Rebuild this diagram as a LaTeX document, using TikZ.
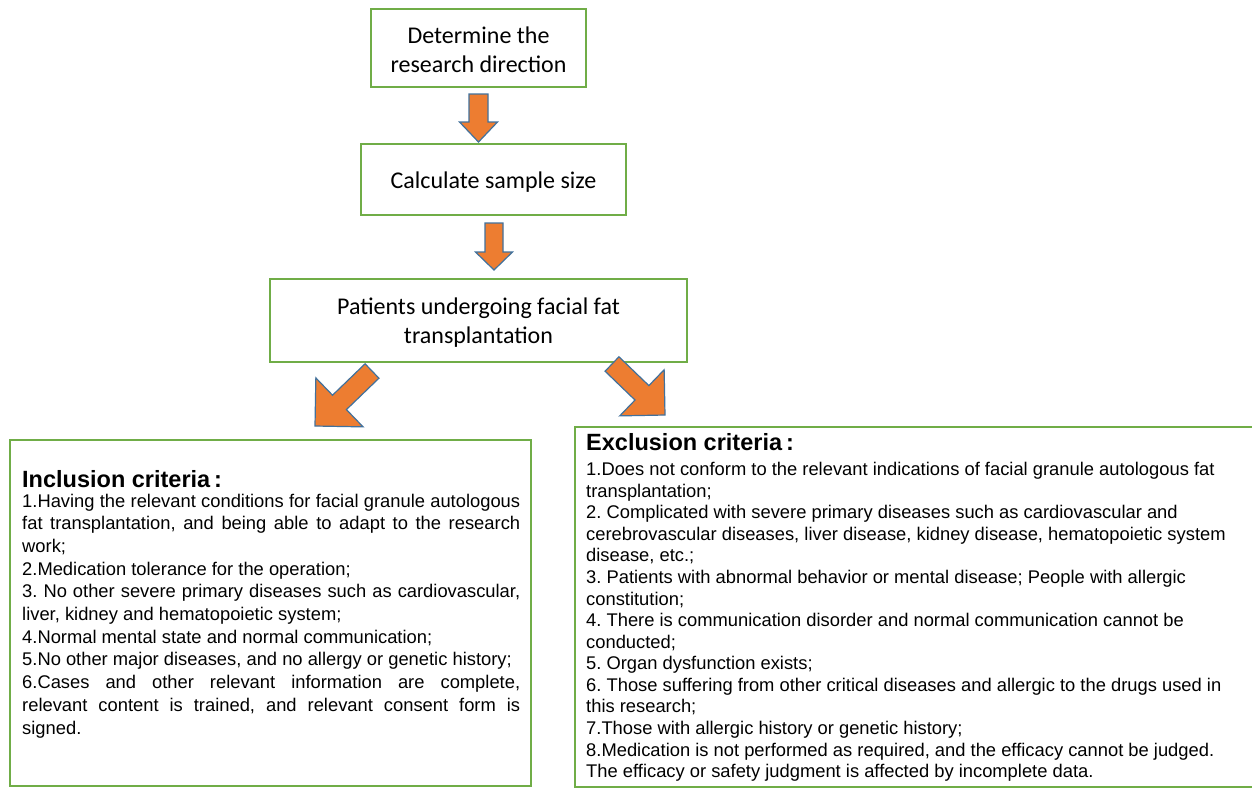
\documentclass[tikz,border=0pt]{standalone}
\usepackage{fontspec}
\setmainfont{Liberation Sans}
\newfontfamily\calfont{Carlito}
\usetikzlibrary{calc}
\definecolor{boxgreen}{HTML}{70AD47}
\definecolor{arrfill}{HTML}{ED7D31}
\definecolor{arredge}{HTML}{41719C}
\tikzset{
  flowbox/.style={draw=boxgreen, line width=1.8pt, fill=white, inner sep=0pt},
  toptext/.style={font=\calfont\fontsize{24}{29}\selectfont, align=center, inner sep=0pt},
  barrow/.style={fill=arrfill, draw=arredge, line width=1.2pt, line join=miter},
  crittitle/.style={font=\bfseries\fontsize{23.5}{28}\selectfont, anchor=base west, inner sep=0pt},
  critbody/.style={anchor=base west, inner sep=0pt, align=left},
}
\newcommand\jline[1]{\makebox[498pt][s]{#1}}
\newcommand\normspaces{\frenchspacing\spaceskip=0pt\xspaceskip=0pt\relax}
\newcommand\blockarr[5]{%
  \path ($(#2)!#5!(#1)$) coordinate (#2-m);
  \draw[barrow] ($(#1)!#3!90:(#2)$) -- ($(#2-m)!#3!90:(#2)$) -- ($(#2-m)!#4!90:(#2)$)
     -- (#2) -- ($(#2-m)!#4!-90:(#2)$) -- ($(#2-m)!#3!-90:(#2)$) -- ($(#1)!#3!-90:(#2)$) -- cycle;
}
\begin{document}
\begin{tikzpicture}[x=1pt,y=-1pt]
\useasboundingbox (0,0) rectangle (1252,788);
\fill[white] (0,0) rectangle (1252,788);

% top boxes
\node[flowbox, minimum width=215pt, minimum height=78pt] (b1) at (478.5,48) {};
\node[toptext] (b1t) at ($(b1.center)+(0,2)$) {Determine the\\research direction};
\node[flowbox, minimum width=265pt, minimum height=71pt] (b2) at (493.5,179.5) {};
\node[toptext] (b2t) at ($(b2.center)+(0,2.5)$) {Calculate sample size};
\node[flowbox, minimum width=417pt, minimum height=83pt] (b3) at (478.5,320.5) {};
\node[toptext] (b3t) at ($(b3.center)+(0,2.5)$) {Patients undergoing facial fat\\transplantation};

% criteria boxes
\node[flowbox, minimum width=521pt, minimum height=346pt] (inc) at (270.5,613) {};
\node[flowbox, minimum width=683pt, minimum height=360pt] (exc) at (916.5,607) {};

\node[crittitle] (inct) at (22,487.5) {Inclusion criteria\,:};
\node[critbody, text width=510pt, font=\fontsize{18.35}{22.7}\selectfont] (incb) at (22,507) {\normspaces
\jline{1.Having the relevant conditions for facial granule autologous}\\
\jline{fat transplantation, and being able to adapt to the research}\\
work;\\
2.Medication tolerance for the operation;\\
\jline{3. No other severe primary diseases such as cardiovascular,}\\
liver, kidney and hematopoietic system;\\
4.Normal mental state and normal communication;\\
5.No other major diseases, and no allergy or genetic history;\\
\jline{6.Cases and other relevant information are complete,}\\
\jline{relevant content is trained, and relevant consent form is}\\
signed.};

\node[crittitle] (exct) at (586,450) {Exclusion criteria\,:};
\node[critbody, text width=700pt, font=\fontsize{18.35}{21.57}\selectfont] (excb) at (586,475.7) {\normspaces
1.Does not conform to the relevant indications of facial granule autologous fat\\
transplantation;\\
2. Complicated with severe primary diseases such as cardiovascular and\\
cerebrovascular diseases, liver disease, kidney disease, hematopoietic system\\
disease, etc.;\\
3. Patients with abnormal behavior or mental disease; People with allergic\\
constitution;\\
4. There is communication disorder and normal communication cannot be\\
conducted;\\
5. Organ dysfunction exists;\\
6. Those suffering from other critical diseases and allergic to the drugs used in\\
this research;\\
7.Those with allergic history or genetic history;\\
8.Medication is not performed as required, and the efficacy cannot be judged.\\
The efficacy or safety judgment is affected by incomplete data.};

% block arrows
\coordinate (a1t) at (478.5,94);  \coordinate (a1h) at (478.5,142);
\coordinate (a2t) at (494,223);   \coordinate (a2h) at (494,270);
\coordinate (a3t) at (372,371);   \coordinate (a3h) at (315,426);
\coordinate (a4t) at (612,364);   \coordinate (a4h) at (665,415);
\blockarr{a1t}{a1h}{9.5pt}{19pt}{20pt}
\blockarr{a2t}{a2h}{9pt}{18.5pt}{18pt}
\blockarr{a3t}{a3h}{10pt}{34pt}{34pt}
\blockarr{a4t}{a4h}{10pt}{32pt}{32pt}
\end{tikzpicture}
\end{document}
